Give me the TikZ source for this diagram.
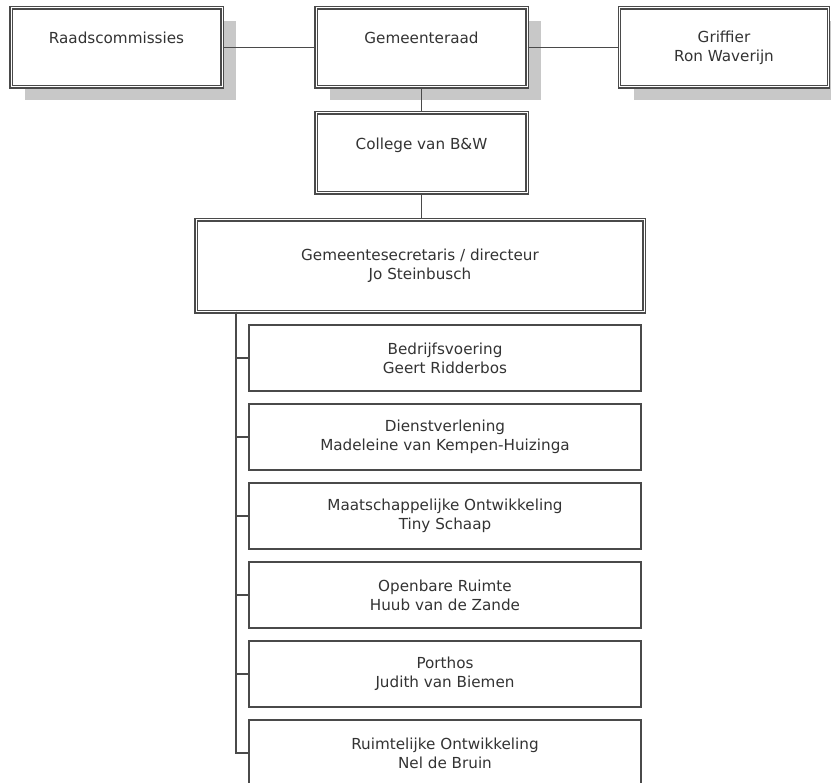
\documentclass[tikz,border=0pt]{standalone}
\usepackage{fontspec}
\setmainfont{DejaVu Sans}
\usetikzlibrary{shadows}
\definecolor{linegray}{HTML}{4A4A4A}
\definecolor{shadegray}{HTML}{C8C8C8}
\definecolor{txtgray}{HTML}{333333}
\tikzset{
  dbox/.style={draw=linegray, line width=1.1pt, double=white, double distance=1pt,
    fill=white, rectangle, inner sep=0pt, align=center, text=txtgray,
    font=\fontsize{15.2}{19}\selectfont},
  shbox/.style={dbox, drop shadow={shadow xshift=14pt, shadow yshift=-13pt, fill=shadegray, opacity=1}},
  subbox/.style={draw=linegray, line width=1.3pt, fill=white, rectangle, inner sep=0pt,
    align=center, text=txtgray, font=\fontsize{15.2}{19}\selectfont,
    minimum width=392pt, minimum height=66pt},
  conn/.style={draw=linegray, line width=1.2pt}
}
\begin{document}
\begin{tikzpicture}[x=1pt,y=-1pt]
\useasboundingbox (0,0) rectangle (831,783);
\node[shbox, minimum width=211pt, minimum height=79pt] (raad) at (116.5,47.5) {Raadscommissies\\~};
\node[shbox, minimum width=211pt, minimum height=79pt] (gem) at (421.5,47.5) {Gemeenteraad\\~};
\node[shbox, minimum width=209pt, minimum height=79pt] (grif) at (724,47.5) {Griffier\\Ron Waverijn};
\node[dbox, minimum width=211pt, minimum height=80pt] (coll) at (421.5,153) {College van B\&W\\~};
\node[dbox, minimum width=448pt, minimum height=92pt] (sec) at (420,266) {Gemeentesecretaris / directeur\\Jo Steinbusch};
\node[subbox] (b1) at (445,358) {Bedrijfsvoering\\Geert Ridderbos};
\node[subbox] (b2) at (445,437) {Dienstverlening\\Madeleine van Kempen-Huizinga};
\node[subbox] (b3) at (445,516) {Maatschappelijke Ontwikkeling\\Tiny Schaap};
\node[subbox] (b4) at (445,595) {Openbare Ruimte\\Huub van de Zande};
\node[subbox] (b5) at (445,674) {Porthos\\Judith van Biemen};
\node[subbox] (b6) at (445,753) {Ruimtelijke Ontwikkeling\\Nel de Bruin};
\draw[conn] (raad.east) -- (gem.west);
\draw[conn] (gem.east) -- (grif.west);
\draw[conn] (gem.south) -- (coll.north);
\draw[conn] (coll.south) -- (coll.south |- sec.north);
\coordinate (trunk) at (236,312);
\foreach \b in {b1,b2,b3,b4,b5,b6} {
  \draw[conn] (trunk) |- (\b.west);
}
\end{tikzpicture}
\end{document}
